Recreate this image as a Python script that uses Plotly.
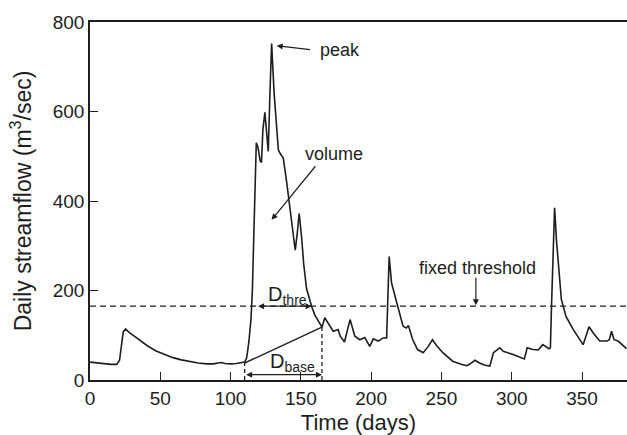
import plotly.graph_objects as go

# ---- data ----
days = [0, 5, 10, 15, 19, 21, 22.5, 23.7, 25.3, 28, 32, 36, 41, 47, 53, 59, 65, 71, 77, 83,
        88, 91, 93.5, 96, 100, 104, 107, 110, 111.5, 113, 114.5, 115.5, 116.5, 117.5, 118.3,
        119.5, 121, 122, 123, 124.4, 125.5, 126.8, 128, 129.2, 131, 134, 135.5, 137.5, 140,
        142, 144.6, 146, 147.5, 148.8, 150.5, 152, 154, 157.6, 160, 162.4, 165, 167, 169.3,
        171, 173, 176.5, 178, 181, 185, 188.4, 192, 195.5, 199, 201.5, 205, 208.5, 211,
        212.8, 214.5, 217, 219, 222.7, 225, 226.5, 229.6, 233, 237, 240.4, 243.6, 246.5,
        251, 258, 264, 268, 270, 273.8, 277, 281, 284.4, 287, 291.5, 294, 301, 309, 311,
        315, 319, 322, 326.6, 327.5, 328.3, 329.5, 330.5, 331.8, 333.5, 335.3, 338.6,
        343.7, 350.8, 355, 358, 362.6, 367.8, 369.4, 371, 372.8, 375.7, 381.6]
flow = [40, 38, 36, 35, 35, 44, 80, 108, 114, 106, 97, 87, 76, 65, 57, 50, 45, 41, 38, 36,
        36, 38, 39, 37, 36, 37, 38, 40, 50, 85, 135, 200, 320, 450, 530,
        520, 490, 486, 560, 598, 555, 511, 640, 752, 640, 514, 505, 496, 440,
        388, 313, 290, 330, 372, 320, 260, 205, 165, 145, 131, 118, 139, 128,
        118, 109, 113, 98, 85, 135, 98, 90, 95, 75, 92, 87, 94, 94,
        276, 217, 187, 165, 120, 116, 122, 90, 68, 61, 74, 90, 77,
        61, 42, 35, 32, 35, 44, 38, 33, 31, 61, 72, 64, 57, 47, 72,
        68, 67, 79, 70, 72, 165, 313, 385, 313, 240, 180, 142,
        113, 79, 119, 105, 87, 87, 90, 109, 90, 87, 70]

threshold = 165
base_days = [110, 165]
base_flow = [38, 118]
thre_days = [118.5, 157.6]

x_ticks = [0, 50, 100, 150, 200, 250, 300, 350]
y_ticks = [0, 200, 400, 600, 800]

INK = "#1e1e1e"
FONT = "Liberation Sans, Arial, sans-serif"

fig = go.Figure()

# threshold (dashed, full width)
fig.add_trace(go.Scatter(x=[0, 382], y=[threshold, threshold], mode="lines",
                         line=dict(color=INK, width=1.4, dash="6px,4px"),
                         hoverinfo="skip", showlegend=False))
# streamflow
fig.add_trace(go.Scatter(x=days, y=flow, mode="lines",
                         line=dict(color=INK, width=1.6),
                         showlegend=False))
# baseline separation line
fig.add_trace(go.Scatter(x=base_days, y=base_flow, mode="lines",
                         line=dict(color=INK, width=1.4),
                         hoverinfo="skip", showlegend=False))
# vertical dashed lines for D_base
for d, v in zip(base_days, base_flow):
    fig.add_trace(go.Scatter(x=[d, d], y=[0, v], mode="lines",
                             line=dict(color=INK, width=1.3, dash="4px,3px"),
                             hoverinfo="skip", showlegend=False))

ann = []
tf = dict(family=FONT, size=18, color=INK)
ann.append(dict(x=162.1, y=738, xref="x", yref="y", text="peak", showarrow=False,
                xanchor="left", yanchor="middle", font=tf))
ann.append(dict(x=132.8, y=747, ax=157.6, ay=738, xref="x", yref="y", axref="x", ayref="y",
                text="", showarrow=True, arrowhead=2, arrowsize=1, arrowwidth=1.2,
                arrowcolor=INK))
ann.append(dict(x=151.5, y=506, xref="x", yref="y", text="volume", showarrow=False,
                xanchor="left", yanchor="middle", font=tf))
ann.append(dict(x=129.2, y=358, ax=161.2, ay=481, xref="x", yref="y", axref="x", ayref="y",
                text="", showarrow=True, arrowhead=2, arrowsize=1, arrowwidth=1.2,
                arrowcolor=INK))
ann.append(dict(x=232.3, y=251, xref="x", yref="y", text="fixed threshold", showarrow=False,
                xanchor="left", yanchor="middle", font=tf))
ann.append(dict(x=274.5, y=167, ax=274.5, ay=232, xref="x", yref="y", axref="x", ayref="y",
                text="", showarrow=True, arrowhead=2, arrowsize=1, arrowwidth=1.2,
                arrowcolor=INK))
# D_thre
ann.append(dict(x=125.3, y=189, xref="x", yref="y", text="D<sub>thre</sub>", showarrow=False,
                xanchor="left", yanchor="middle", font=dict(family=FONT, size=20, color=INK)))
ann.append(dict(x=thre_days[1], y=threshold, ax=thre_days[0], ay=threshold, xref="x", yref="y",
                axref="x", ayref="y", text="", showarrow=True, arrowhead=2, arrowside="end+start",
                arrowsize=1, arrowwidth=1.2, arrowcolor=INK))
# D_base
ann.append(dict(x=126.3, y=40, xref="x", yref="y", text="D<sub>base</sub>", showarrow=False,
                xanchor="left", yanchor="middle", font=dict(family=FONT, size=20, color=INK)))
ann.append(dict(x=base_days[1], y=12, ax=base_days[0], ay=12, xref="x", yref="y",
                axref="x", ayref="y", text="", showarrow=True, arrowhead=2, arrowside="end+start",
                arrowsize=1, arrowwidth=1.2, arrowcolor=INK))

fig.update_layout(
    width=627, height=435,
    margin=dict(l=90, r=0, t=22, b=55),
    paper_bgcolor="white", plot_bgcolor="white",
    font=dict(family=FONT, color=INK),
    annotations=ann,
    xaxis=dict(range=[0, 382], tickvals=x_ticks, ticks="inside", ticklen=8, tickwidth=1.3,
               tickcolor=INK, showline=True, linecolor=INK, linewidth=1.5, mirror=True,
               showgrid=False, zeroline=False, tickfont=dict(size=19, color=INK),
               title=dict(text="Time (days)", font=dict(size=22, color=INK), standoff=7)),
    yaxis=dict(range=[0, 800], tickvals=y_ticks, ticks="inside", ticklen=8, tickwidth=1.3,
               tickcolor=INK, showline=True, linecolor=INK, linewidth=1.5, mirror=False,
               showgrid=False, zeroline=False, tickfont=dict(size=19, color=INK),
               title=dict(text="Daily streamflow (m<sup>3</sup>/sec)",
                          font=dict(size=23, color=INK), standoff=15)),
)

fig.write_html("out.html")
